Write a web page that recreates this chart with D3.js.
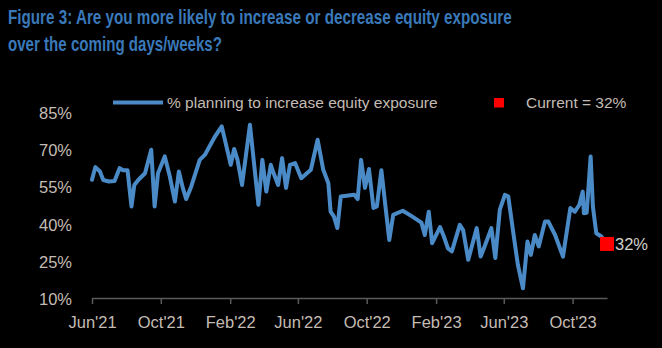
<!DOCTYPE html>
<html>
<head>
<meta charset="utf-8">
<script src="https://cdn.jsdelivr.net/npm/d3@7"></script>
<style>
  html, body { margin: 0; padding: 0; background: #000; }
  svg { display: block; }
</style>
</head>
<body>
<svg id="chart" width="662" height="348"></svg>
<script>
// ---- data ----
const dates = [
  "2021-06-01","2021-06-07","2021-06-15","2021-06-21","2021-07-01","2021-07-11","2021-07-20","2021-07-26",
  "2021-08-03","2021-08-10","2021-08-15","2021-08-22","2021-09-03","2021-09-14","2021-09-20","2021-09-26",
  "2021-10-08","2021-10-17","2021-10-26","2021-11-02","2021-11-09","2021-11-15","2021-11-24","2021-12-09",
  "2021-12-18","2022-01-05","2022-01-17","2022-02-02","2022-02-08","2022-02-14","2022-02-22","2022-03-08",
  "2022-03-23","2022-03-30","2022-04-06","2022-04-14","2022-04-19","2022-04-27","2022-05-04","2022-05-11",
  "2022-05-18","2022-05-27","2022-06-07","2022-06-24","2022-07-06","2022-07-16","2022-07-25","2022-07-29",
  "2022-08-04","2022-08-10","2022-08-16","2022-09-09","2022-09-15","2022-09-21","2022-09-28","2022-10-05",
  "2022-10-13","2022-10-19","2022-10-27","2022-11-10","2022-11-17","2022-12-04","2022-12-19","2023-01-06",
  "2023-01-12","2023-01-19","2023-01-25","2023-02-08","2023-02-15","2023-02-22","2023-03-01","2023-03-15",
  "2023-03-21","2023-03-30","2023-04-14","2023-04-21","2023-04-28","2023-05-10","2023-05-17","2023-05-25",
  "2023-06-03","2023-06-09","2023-06-18","2023-06-26","2023-07-05","2023-07-13","2023-07-19","2023-07-26",
  "2023-08-02","2023-08-13","2023-08-19","2023-08-31","2023-09-14","2023-09-27","2023-10-05","2023-10-13",
  "2023-10-19","2023-10-21","2023-10-26","2023-11-02","2023-11-06","2023-11-12","2023-11-21","2023-12-01"
];
const pctIncrease = [
  57.9, 63.0, 61.2, 57.8, 57.2, 57.4, 62.6, 61.7,
  61.7, 47.1, 55.8, 57.8, 60.5, 70.0, 47.1, 60.5,
  67.3, 59.2, 49.1, 61.2, 54.6, 50.1, 55.2, 65.9,
  67.9, 75.3, 79.4, 63.9, 70.3, 65.9, 55.8, 80.1,
  47.8, 65.9, 53.1, 63.9, 60.5, 55.8, 66.6, 54.6,
  63.9, 64.6, 58.5, 61.9, 74.0, 61.9, 56.5, 45.0,
  43.0, 38.4, 51.1, 51.8, 50.1, 65.9, 54.6, 62.2,
  46.5, 47.1, 61.7, 33.6, 43.7, 45.4, 43.3, 40.6,
  35.6, 45.0, 32.3, 38.8, 34.9, 30.2, 29.0, 39.7,
  37.6, 25.6, 38.4, 26.9, 31.0, 38.4, 26.3, 45.8,
  51.8, 51.1, 36.3, 23.6, 14.1, 33.0, 27.6, 35.6,
  31.0, 41.0, 41.0, 35.6, 26.9, 46.5, 45.0, 47.8,
  53.1, 44.4, 44.6, 67.3, 47.1, 36.3, 35.0, 32.0
];
const currentValue = 32;
const yTicks = [10, 25, 40, 55, 70, 85];
const xTickDates = ["2021-06-01","2021-10-01","2022-02-01","2022-06-01","2022-10-01","2023-02-01","2023-06-01","2023-10-01"];
const xTickLabels = ["Jun'21","Oct'21","Feb'22","Jun'22","Oct'22","Feb'23","Jun'23","Oct'23"];
const xDomain = ["2021-06-01","2023-12-01"];
const titleLines = ["Figure 3: Are you more likely to increase or decrease equity exposure", "over the coming days/weeks?"];
const legendLabels = ["% planning to increase equity exposure", "Current = 32%"];

// ---- drawing ----
const parse = d3.timeParse("%Y-%m-%d");
const data = dates.map((d, i) => ({ date: parse(d), value: pctIncrease[i] }));

const svg = d3.select("#chart");
svg.append("rect").attr("width", 662).attr("height", 348).attr("fill", "#000");

const x = d3.scaleTime().domain(xDomain.map(parse)).range([92, 607]);
const y = d3.scaleLinear().domain([10, 85]).range([298.5, 112.5]);

const labelColor = "#c4bcb4";
const font = "'Liberation Sans', Arial, sans-serif";

// title: scaled horizontally to the reference widths
const titleFont = "'Liberation Sans Narrow', 'Arial Narrow', 'Liberation Sans', Arial, sans-serif";
const titleWidths = [504, 214];
const titleBaselines = [24, 50.5];
titleLines.forEach((t, i) => {
  const g = svg.append("g");
  const txt = g.append("text").attr("x", 0).attr("y", 0).text(t)
    .attr("fill", "#3a79b9").attr("font-family", titleFont).attr("font-weight", "bold")
    .attr("font-size", 20.5);
  const w = txt.node().getComputedTextLength();
  const sx = w > 0 ? titleWidths[i] / w : 1;
  g.attr("transform", `translate(8,${titleBaselines[i]}) scale(${sx},1)`);
});

// y axis labels (no line)
const yAxis = d3.axisLeft(y).tickValues(yTicks).tickFormat(d => d + "%").tickSize(0).tickPadding(0);
const gy = svg.append("g").attr("transform", "translate(72,0)").call(yAxis);
gy.select(".domain").remove();
gy.selectAll("text").attr("fill", labelColor).attr("font-family", font).attr("font-size", 16.5)
  .attr("dy", "0.36em");

// x axis
const xAxis = d3.axisBottom(x).tickValues(xTickDates.map(parse))
  .tickFormat((d, i) => xTickLabels[i]).tickSizeInner(6).tickSizeOuter(0).tickPadding(12);
const gx = svg.append("g").attr("transform", "translate(0,298)").call(xAxis);
gx.select(".domain").attr("stroke", "#5a5a5a").attr("stroke-width", 1.5);
gx.selectAll(".tick line").attr("stroke", "#5a5a5a").attr("stroke-width", 1.5);
gx.selectAll("text").attr("fill", labelColor).attr("font-family", font).attr("font-size", 16.5);

// line
const line = d3.line().x(d => x(d.date)).y(d => y(d.value));
svg.append("path").datum(data).attr("d", line)
  .attr("fill", "none").attr("stroke", "#4a8bc7").attr("stroke-width", 4)
  .attr("stroke-linejoin", "round").attr("stroke-linecap", "round");

// current marker
const last = data[data.length - 1];
svg.append("rect").attr("x", x(last.date) - 7).attr("y", y(currentValue) - 7)
  .attr("width", 14).attr("height", 14).attr("fill", "#ff0000");
svg.append("text").attr("x", x(last.date) + 8).attr("y", y(currentValue)).attr("dy", "0.36em")
  .text(currentValue + "%").attr("fill", "#d4d0cc").attr("font-family", font).attr("font-size", 16.5);

// legend
svg.append("line").attr("x1", 113).attr("x2", 163).attr("y1", 102.5).attr("y2", 102.5)
  .attr("stroke", "#4a8bc7").attr("stroke-width", 4);
svg.append("text").attr("x", 167).attr("y", 108).text(legendLabels[0])
  .attr("fill", labelColor).attr("font-family", font).attr("font-size", 15.5);
svg.append("rect").attr("x", 494).attr("y", 98).attr("width", 10).attr("height", 9.5).attr("fill", "#ff0000");
svg.append("text").attr("x", 526).attr("y", 108).text(legendLabels[1])
  .attr("fill", labelColor).attr("font-family", font).attr("font-size", 15.5);
</script>
</body>
</html>
